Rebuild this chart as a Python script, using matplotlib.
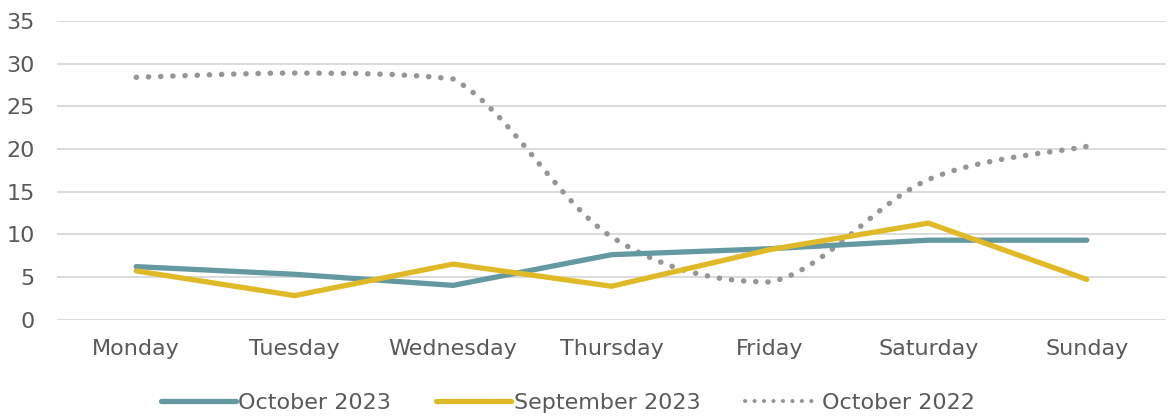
import numpy as np
import matplotlib
matplotlib.use("Agg")
import matplotlib.pyplot as plt
from matplotlib.path import Path
from matplotlib.patches import PathPatch
from matplotlib.lines import Line2D

plt.rcParams['font.family'] = ['DejaVu Sans']

days = ["Monday", "Tuesday", "Wednesday", "Thursday", "Friday", "Saturday", "Sunday"]
oct_2023 = [6.2, 5.3, 4.0, 7.6, 8.3, 9.3, 9.3]
sep_2023 = [5.7, 2.8, 6.5, 3.9, 8.2, 11.3, 4.7]
oct_2022 = [28.4, 28.9, 28.2, 9.7, 4.4, 16.4, 20.3]

teal = "#6599A1"
gold = "#E0B928"
grey = "#969696"
text_col = "#595959"

fig = plt.figure(figsize=(11.71, 4.18), dpi=100)
ax = fig.add_axes([57 / 1171, 98.5 / 418, 1109 / 1171, 298.5 / 418])

x = np.arange(len(days))
ax.plot(x, oct_2023, color=teal, lw=3.8, solid_capstyle='round', solid_joinstyle='miter', zorder=3)
ax.plot(x, sep_2023, color=gold, lw=3.8, solid_capstyle='round', solid_joinstyle='miter', zorder=4)


# smoothed line: catmull-rom bezier, control points kept inside each segment's y range
def smooth_path(xs, ys, t=1 / 6):
    pts = np.column_stack([xs, ys]).astype(float)
    n = len(pts)
    verts = [tuple(pts[0])]
    codes = [Path.MOVETO]
    for i in range(n - 1):
        p0 = pts[i - 1] if i > 0 else pts[i]
        p1, p2 = pts[i], pts[i + 1]
        p3 = pts[i + 2] if i + 2 < n else pts[i + 1]
        c1 = p1 + (p2 - p0) * t
        c2 = p2 - (p3 - p1) * t
        lo, hi = min(p1[1], p2[1]), max(p1[1], p2[1])
        c1[1] = np.clip(c1[1], lo, hi)
        c2[1] = np.clip(c2[1], lo, hi)
        verts += [tuple(c1), tuple(c2), tuple(p2)]
        codes += [Path.CURVE4] * 3
    return Path(verts, codes)


patch = PathPatch(smooth_path(x, oct_2022), fill=False, edgecolor=grey, lw=3.9,
                  linestyle=(0, (0.05, 2.2)), capstyle='round', zorder=2)
ax.add_patch(patch)

ax.set_xlim(-0.5, len(days) - 0.5)
ax.set_ylim(0, 35)
ax.set_yticks(np.arange(0, 36, 5))
ax.set_xticks(x)
ax.set_xticklabels(days)
ax.grid(axis='y', color="#D9D9D9", lw=1.3)
ax.set_axisbelow(True)
for s in ax.spines.values():
    s.set_visible(False)
ax.tick_params(axis='both', length=0, labelsize=16, colors=text_col)
ax.tick_params(axis='y', pad=16)
ax.tick_params(axis='x', pad=14)

handles = [
    Line2D([], [], color=teal, lw=3.8, solid_capstyle='round'),
    Line2D([], [], color=gold, lw=3.8, solid_capstyle='round'),
    Line2D([], [], color=grey, lw=2.9, linestyle=(0, (0.05, 2.3)), dash_capstyle='round'),
]
fig.legend(handles, ["October 2023", "September 2023", "October 2022"],
           loc='center', bbox_to_anchor=(0.485, 0.036), ncol=3, frameon=False,
           fontsize=16, labelcolor=text_col, handlelength=3.4, handletextpad=0.1,
           columnspacing=2.0)

fig.savefig("out.png", dpi=100)
